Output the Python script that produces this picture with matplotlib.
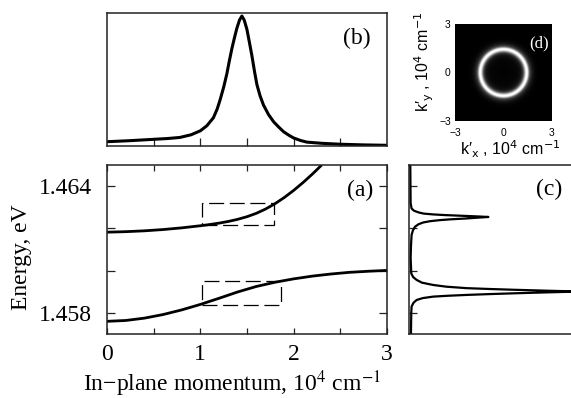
import matplotlib
matplotlib.use("Agg")
import matplotlib.pyplot as plt
from matplotlib.patches import Rectangle
from matplotlib.colors import PowerNorm
import numpy as np

plt.rcParams['font.family'] = 'serif'
plt.rcParams['font.serif'] = ['Liberation Serif', 'DejaVu Serif']
plt.rcParams['mathtext.fontset'] = 'stix'

# (a) polariton branches, k in 10^4 cm^-1, E in eV
up_k = [0, 0.2, 0.4, 0.6, 0.8, 1.0, 1.1, 1.2, 1.3, 1.4, 1.5, 1.6, 1.7,
        1.8, 1.9, 2.0, 2.1, 2.2, 2.3]
up_E = [1.46182, 1.461844, 1.461884, 1.461944, 1.462024, 1.462124,
        1.462182, 1.462248, 1.462328, 1.462428, 1.462553, 1.462713,
        1.462918, 1.463168, 1.463463, 1.463798, 1.464168, 1.464568, 1.464998]
lo_k = [0, 0.2, 0.4, 0.6, 0.8, 1.0, 1.2, 1.4, 1.6, 1.8, 2.0, 2.2, 2.4,
        2.6, 2.8, 3.0]
lo_E = [1.45760, 1.45764, 1.45775, 1.45792, 1.45814, 1.45840, 1.45869,
        1.45899, 1.45925, 1.45945, 1.45961, 1.45974, 1.45984, 1.45992,
        1.45997, 1.46001]

# dashed boxes (k0, k1, E0, E1)
box_k0 = [1.02, 1.02]
box_k1 = [1.785, 1.86]
box_E0 = [1.46215, 1.45839]
box_E1 = [1.46320, 1.45951]

# (b) intensity vs in-plane momentum
b_k = [0, 0.25, 0.5, 0.65, 0.78, 0.9, 1.0, 1.07, 1.14, 1.18, 1.212, 1.25,
       1.284, 1.31, 1.338, 1.365, 1.392, 1.42, 1.445, 1.47, 1.499, 1.525,
       1.553, 1.58, 1.606, 1.64, 1.677, 1.73, 1.785, 1.84, 1.892, 1.95,
       2.0, 2.07, 2.14, 2.3, 2.5, 2.75, 3.0]
b_I = [0.030, 0.038, 0.048, 0.054, 0.062, 0.082, 0.112, 0.15, 0.21, 0.275,
       0.345, 0.44, 0.54, 0.635, 0.73, 0.81, 0.885, 0.945, 0.975, 0.945,
       0.875, 0.78, 0.675, 0.56, 0.46, 0.375, 0.305, 0.235, 0.18, 0.14,
       0.105, 0.078, 0.058, 0.04, 0.027, 0.018, 0.011, 0.006, 0.003]

# (c) spectrum: energy vs intensity
c_E = [1.4570, 1.4580, 1.45830, 1.45848, 1.45861, 1.45870, 1.45877,
       1.45881, 1.45885, 1.45889, 1.45893, 1.45897, 1.45901, 1.45905,
       1.45909, 1.45913, 1.45917, 1.45924, 1.45932, 1.45943, 1.45956,
       1.45970, 1.45987, 1.4606, 1.46113, 1.46169, 1.46190, 1.46208,
       1.46220, 1.46228, 1.46234, 1.46239, 1.46243, 1.46247, 1.46251,
       1.46254, 1.46257, 1.46260, 1.46263, 1.46266, 1.46270, 1.46276,
       1.46284, 1.46294, 1.4632, 1.4640, 1.4650]
c_I = [0.012, 0.014, 0.016, 0.028, 0.047, 0.085, 0.15,
       0.24, 0.356, 0.5, 0.664, 0.85, 1.05, 0.85,
       0.664, 0.5, 0.356, 0.23, 0.15, 0.08, 0.047,
       0.025, 0.014, 0.01, 0.012, 0.016, 0.024, 0.037,
       0.06, 0.088, 0.13, 0.19, 0.26, 0.356, 0.43,
       0.49, 0.41, 0.315, 0.22, 0.15, 0.09, 0.057,
       0.03, 0.016, 0.01, 0.009, 0.008]

W, H = 571, 398
fig = plt.figure(figsize=(W / 100, H / 100), dpi=100)

ax_a = fig.add_axes([107 / W, 1 - 334 / H, 280 / W, 169 / H])
ax_b = fig.add_axes([107 / W, 1 - 145.7 / H, 280 / W, 133 / H])
ax_c = fig.add_axes([409 / W, 1 - 334 / H, 167.7 / W, 169 / H])
ax_d = fig.add_axes([455 / W, 1 - 121 / H, 97 / W, 97 / H])

spc = '#222222'
for ax in (ax_a, ax_b, ax_c):
    for s in ax.spines.values():
        s.set_color(spc)
        s.set_linewidth(1.1)

# ---- (a)
ax_a.plot(up_k, up_E, color='k', lw=2.0, solid_capstyle='butt')
ax_a.plot(lo_k, lo_E, color='k', lw=2.0, solid_capstyle='butt')
for k0, k1, e0, e1 in zip(box_k0, box_k1, box_E0, box_E1):
    ax_a.add_patch(Rectangle((k0, e0), k1 - k0, e1 - e0, fill=False,
                             ec='k', lw=0.9, ls=(0, (12, 4.5))))
ax_a.set_xlim(0, 3)
ax_a.set_ylim(1.457, 1.465)
ax_a.set_xticks([0, 1, 2, 3])
ax_a.set_xticks([0.5, 1.5, 2.5], minor=True)
ax_a.set_yticks([1.458, 1.460, 1.462, 1.464])
ax_a.set_yticklabels(['1.458', '', '', '1.464'])
ax_a.tick_params(axis='both', which='both', direction='in', top=True,
                 right=True, labelsize=17, width=0.9, color=spc)
ax_a.tick_params(axis='x', which='both', length=4, pad=7)
ax_a.tick_params(axis='y', length=6, pad=11)
ax_a.text(0.95, 0.852, '(a)', transform=ax_a.transAxes, ha='right',
          va='center', fontsize=17)

fig.text(232 / W, 7 / H, 'In\u2212plane momentum, 10$^4$ cm$^{-1}$',
         ha='center', va='baseline', fontsize=17)
fig.text(22 / W, 1 - 257 / H, 'Energy, eV', rotation=90, ha='center',
         va='center', fontsize=17)

# ---- (b)
ax_b.plot(b_k, b_I, color='k', lw=2.2)
ax_b.set_xlim(0, 3)
ax_b.set_ylim(0, 1)
ax_b.set_xticks([0.5, 1.0, 1.5, 2.0, 2.5])
ax_b.set_yticks([])
ax_b.tick_params(axis='x', direction='in', length=6, width=0.9,
                 labelbottom=False, color=spc)
ax_b.text(0.94, 0.81, '(b)', transform=ax_b.transAxes, ha='right',
          va='center', fontsize=17)

# ---- (c)
ax_c.plot(c_I, c_E, color='k', lw=1.6)
ax_c.set_xlim(0, 167.7 / 162)
ax_c.set_ylim(1.457, 1.465)
ax_c.set_yticks([1.458, 1.460, 1.462, 1.464])
ax_c.set_xticks([])
ax_c.tick_params(axis='y', direction='in', length=6, width=0.9,
                 labelleft=False, color=spc)
ax_c.text(0.912, 0.858, '(c)', transform=ax_c.transAxes, ha='right',
          va='center', fontsize=17)

# ---- (d) ring image from the (b) radial profile
g = np.linspace(-3, 3, 301)
gx, gy = np.meshgrid(g, g)
img = np.interp(np.hypot(gx, gy), b_k, b_I)
ax_d.imshow(img, cmap='gray', extent=[-3, 3, -3, 3], origin='lower',
            norm=PowerNorm(gamma=1.4, vmin=0, vmax=0.9),
            interpolation='bilinear')
ax_d.set_xticks([-3, 0, 3])
ax_d.set_yticks([-3, 0, 3])
ax_d.set_xticklabels(['\u22123', '0', '3'])
ax_d.set_yticklabels(['\u22123', '0', '3'])
for lab in ax_d.get_xticklabels() + ax_d.get_yticklabels():
    lab.set_fontfamily('Liberation Sans')
ax_d.tick_params(axis='both', length=0, labelsize=7.5)
ax_d.tick_params(axis='x', pad=5)
ax_d.tick_params(axis='y', pad=3)
for s in ax_d.spines.values():
    s.set_visible(False)
ax_d.text(0.97, 0.80, '(d)', transform=ax_d.transAxes, ha='right',
          va='center', fontsize=12, color='white')

fig.text(510 / W, 1 - 155 / H, 'k\u2032$_{\\mathrm{x}}$ , 10$^{4}$ cm$^{-1}$',
         ha='center', va='baseline', fontsize=11.5, family='Liberation Sans',
         math_fontfamily='dejavusans')
fig.text(424 / W, 1 - 62 / H, 'k\u2032$_{\\mathrm{y}}$ , 10$^{4}$ cm$^{-1}$',
         ha='center', va='center', rotation=90, fontsize=11.5,
         family='Liberation Sans', math_fontfamily='dejavusans')

fig.savefig('out.png', dpi=100)
